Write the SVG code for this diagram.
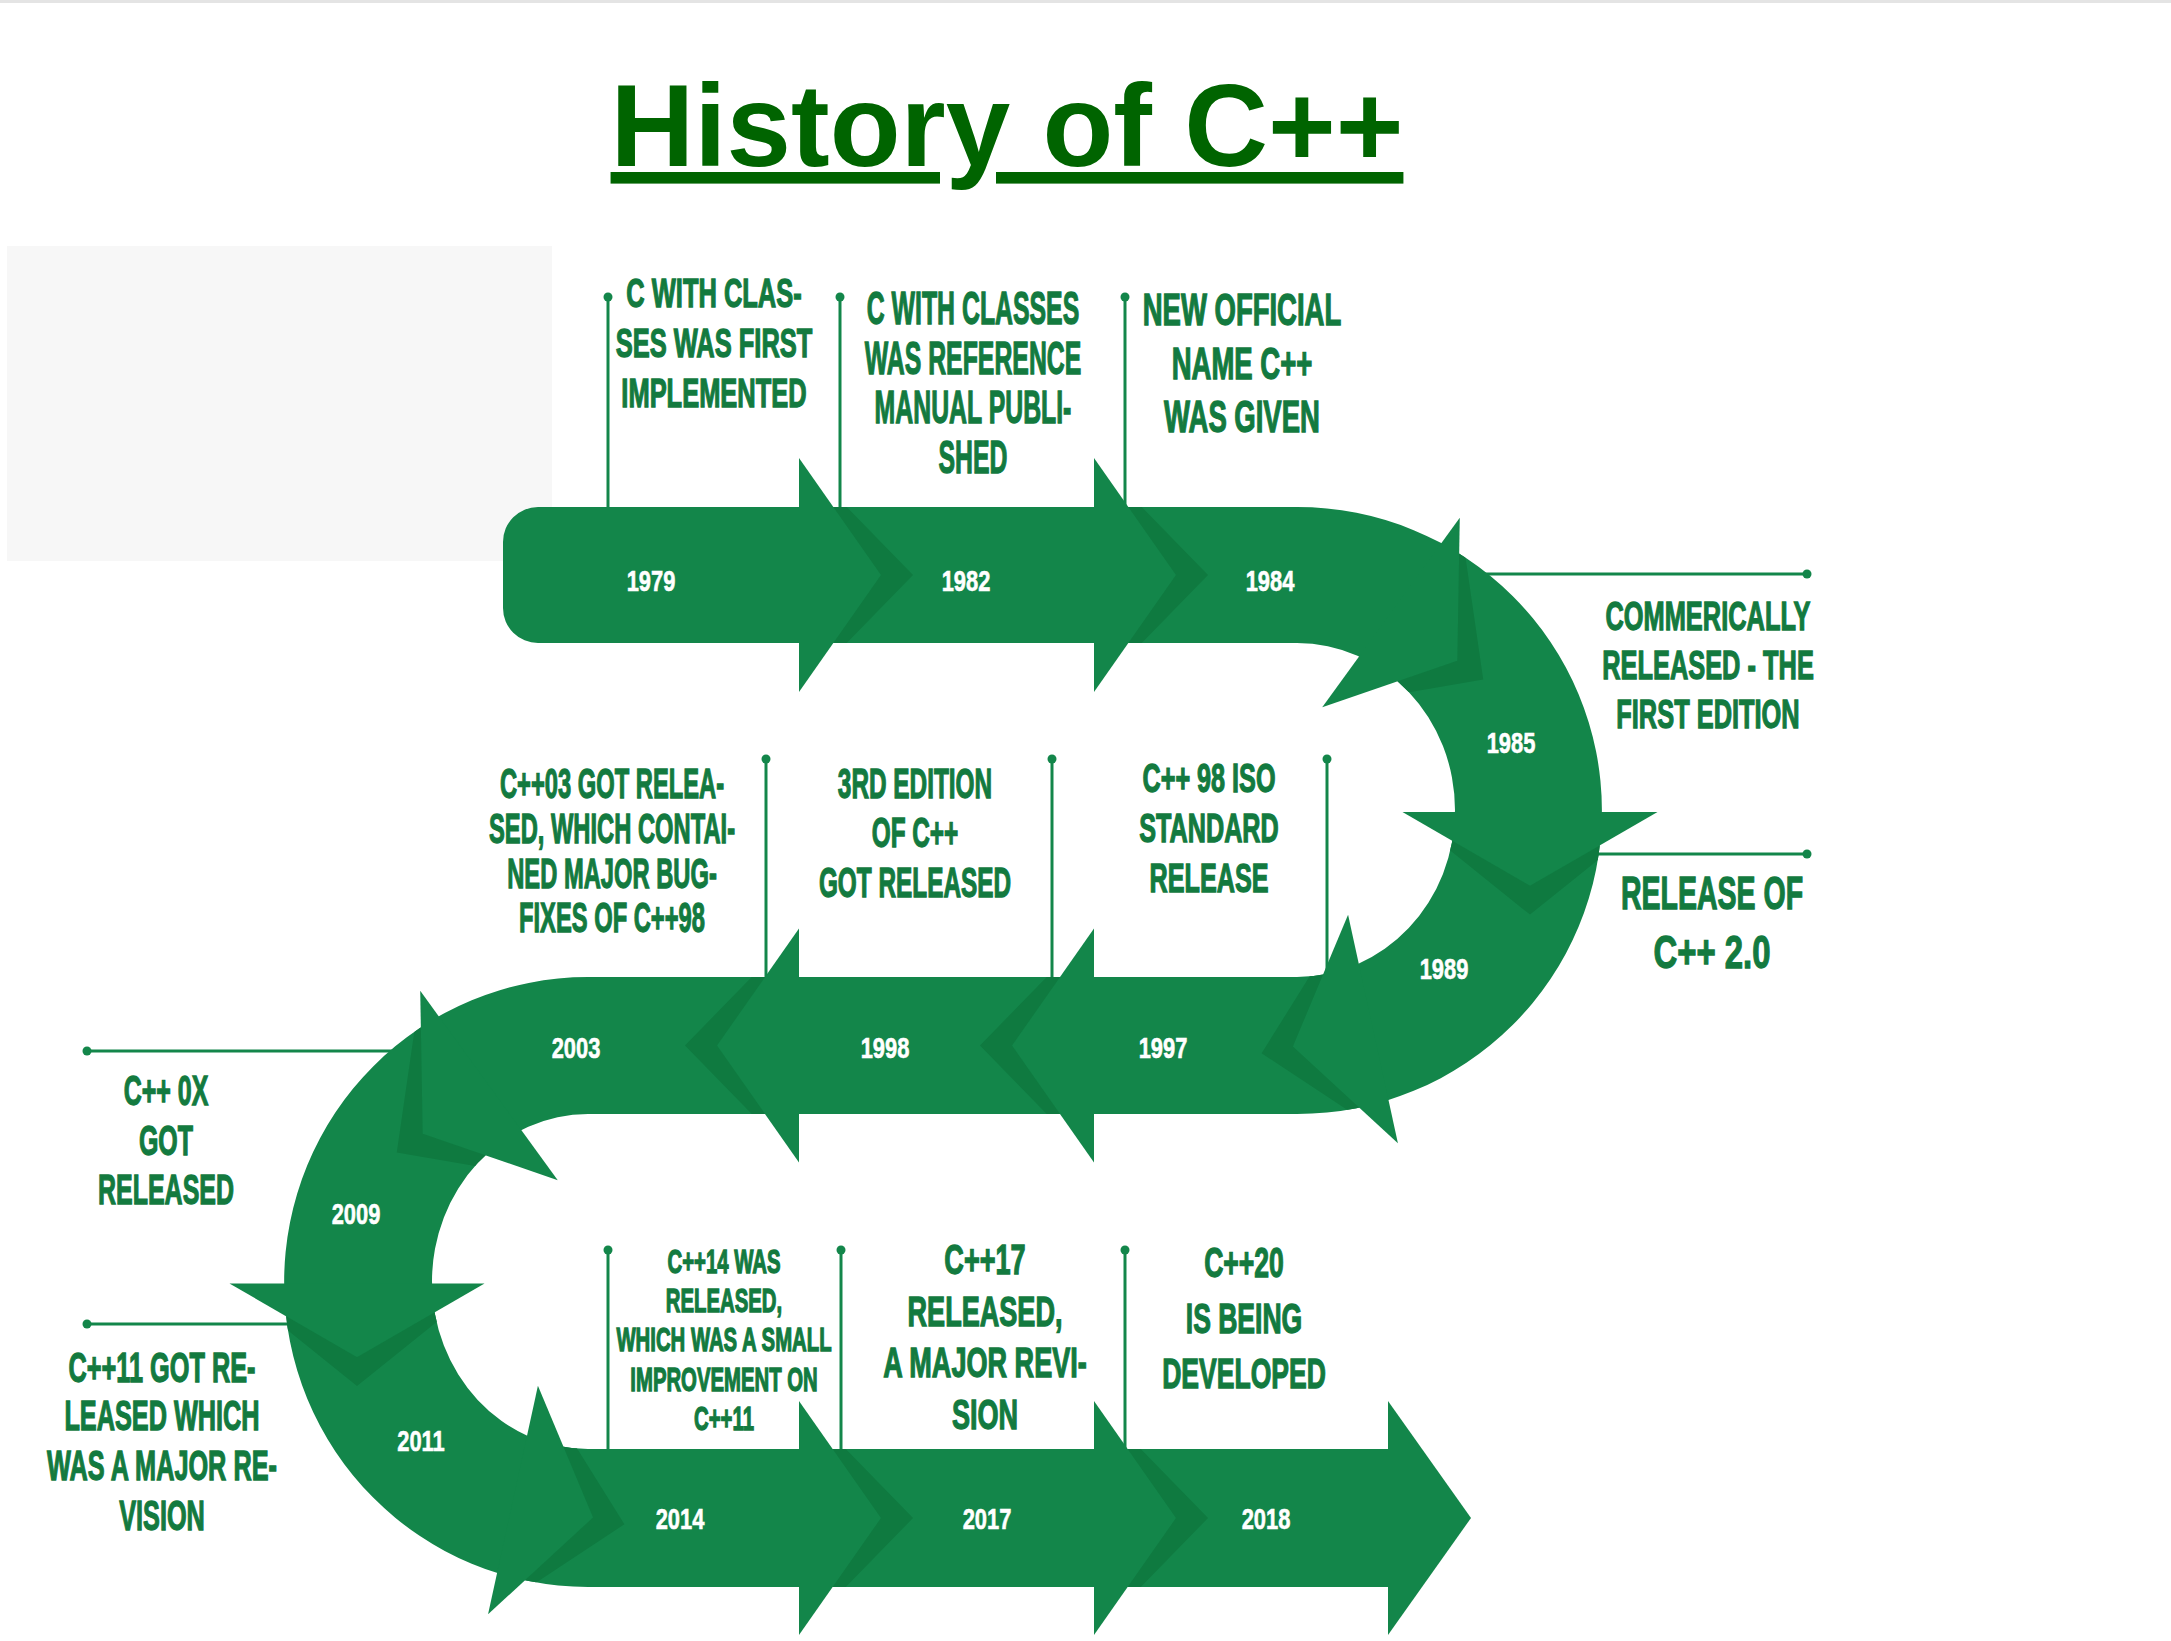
<svg xmlns="http://www.w3.org/2000/svg" xmlns:xlink="http://www.w3.org/1999/xlink" width="2171" height="1641" viewBox="0 0 2171 1641">
<style>
.rib{fill:#13864a}
.shd{fill:#0f7a40}
.yr{font-family:"Liberation Sans",Arial,sans-serif;font-weight:bold;font-size:30px;fill:#ffffff;stroke:#ffffff;stroke-width:0.6;text-anchor:middle}
.lbl{font-family:"Liberation Sans",Arial,sans-serif;font-weight:bold;fill:#137a3f;stroke:#137a3f;stroke-width:1.3;text-anchor:middle}
.title{font-family:"Liberation Sans",Arial,sans-serif;font-weight:bold;font-size:116px;fill:#006400;text-anchor:middle;text-decoration:underline}
.ln{stroke:#13864a;stroke-width:3;fill:none}
.dot{fill:#13864a}
</style>
<defs>
<path id="band" d="M 538 507 L 1297 507 A 305 303.5 0 0 1 1297 1114 L 588 1114 A 156 167.5 0 0 0 588 1449 L 1388 1449 L 1388 1587 L 588 1587 A 304 305 0 0 1 588 977 L 1297 977 A 158 167 0 0 0 1297 643 L 538 643 A 35 35 0 0 1 503 608 L 503 542 A 35 35 0 0 1 538 507 Z"/>
<clipPath id="bandClip"><use xlink:href="#band"/></clipPath>
<polygon id="head" points="0,-117 82,0 0,117"/>
<polygon id="shade" points="0,-117 114,0 0,117 82,0"/>
</defs>
<rect x="0" y="0" width="2171" height="1641" fill="#ffffff"/>
<rect x="0" y="0" width="2171" height="3" fill="#e4e4e4"/>
<rect x="7" y="246" width="545" height="315" fill="#f7f7f7"/>
<g id="title"><text class="title" x="1007" y="166">History of C++</text></g>

<g id="connectors">
<line class="ln" x1="608" y1="297" x2="608" y2="520"/><circle class="dot" cx="608" cy="297" r="4.5"/>
<line class="ln" x1="840" y1="297" x2="840" y2="520"/><circle class="dot" cx="840" cy="297" r="4.5"/>
<line class="ln" x1="1125" y1="297" x2="1125" y2="520"/><circle class="dot" cx="1125" cy="297" r="4.5"/>
<line class="ln" x1="1460" y1="574" x2="1807" y2="574"/><circle class="dot" cx="1807" cy="574" r="4.5"/>
<line class="ln" x1="1580" y1="854" x2="1807" y2="854"/><circle class="dot" cx="1807" cy="854" r="4.5"/>
<line class="ln" x1="766" y1="759" x2="766" y2="990"/><circle class="dot" cx="766" cy="759" r="4.5"/>
<line class="ln" x1="1052" y1="759" x2="1052" y2="990"/><circle class="dot" cx="1052" cy="759" r="4.5"/>
<line class="ln" x1="1327" y1="759" x2="1327" y2="990"/><circle class="dot" cx="1327" cy="759" r="4.5"/>
<line class="ln" x1="87" y1="1051" x2="420" y2="1051"/><circle class="dot" cx="87" cy="1051" r="4.5"/>
<line class="ln" x1="87" y1="1324" x2="310" y2="1324"/><circle class="dot" cx="87" cy="1324" r="4.5"/>
<line class="ln" x1="608" y1="1250" x2="608" y2="1460"/><circle class="dot" cx="608" cy="1250" r="4.5"/>
<line class="ln" x1="841" y1="1250" x2="841" y2="1460"/><circle class="dot" cx="841" cy="1250" r="4.5"/>
<line class="ln" x1="1125" y1="1250" x2="1125" y2="1460"/><circle class="dot" cx="1125" cy="1250" r="4.5"/>
</g>

<g id="ribbon">
<use xlink:href="#band" class="rib"/>
<g class="rib">
<use xlink:href="#head" transform="translate(799 575)"/>
<use xlink:href="#head" transform="translate(1094 575)"/>
<use xlink:href="#head" transform="translate(1391 612.5) rotate(36)"/>
<use xlink:href="#head" transform="translate(1530 812) rotate(90) scale(0.9 1.09)"/>
<use xlink:href="#head" transform="translate(1373 1029) rotate(167.7)"/>
<use xlink:href="#head" transform="translate(1094 1045.5) rotate(180)"/>
<use xlink:href="#head" transform="translate(799 1045.5) rotate(180)"/>
<use xlink:href="#head" transform="translate(489 1085.5) rotate(144)"/>
<use xlink:href="#head" transform="translate(357 1283.5) rotate(90) scale(0.9 1.09)"/>
<use xlink:href="#head" transform="translate(513 1500) rotate(12.3)"/>
<use xlink:href="#head" transform="translate(799 1518)"/>
<use xlink:href="#head" transform="translate(1094 1518)"/>
<polygon points="1388,1401 1471,1518 1388,1635"/>
</g>
<g class="shd" clip-path="url(#bandClip)">
<use xlink:href="#shade" transform="translate(799 575)"/>
<use xlink:href="#shade" transform="translate(1094 575)"/>
<use xlink:href="#shade" transform="translate(1391 612.5) rotate(36)"/>
<use xlink:href="#shade" transform="translate(1530 812) rotate(90) scale(0.9 1.09)"/>
<use xlink:href="#shade" transform="translate(1373 1029) rotate(167.7)"/>
<use xlink:href="#shade" transform="translate(1094 1045.5) rotate(180)"/>
<use xlink:href="#shade" transform="translate(799 1045.5) rotate(180)"/>
<use xlink:href="#shade" transform="translate(489 1085.5) rotate(144)"/>
<use xlink:href="#shade" transform="translate(357 1283.5) rotate(90) scale(0.9 1.09)"/>
<use xlink:href="#shade" transform="translate(513 1500) rotate(12.3)"/>
<use xlink:href="#shade" transform="translate(799 1518)"/>
<use xlink:href="#shade" transform="translate(1094 1518)"/>
</g>
</g>

<g id="e1979">
<text class="yr" transform="translate(651 0) scale(0.73 1)"><tspan x="0" y="591">1979</tspan></text>
<text class="lbl" font-size="40" transform="translate(714 0) scale(0.637 1)"><tspan x="0" y="307">C WITH CLAS-</tspan><tspan x="0" y="357">SES WAS FIRST</tspan><tspan x="0" y="407">IMPLEMENTED</tspan></text>
</g>
<g id="e1982">
<text class="yr" transform="translate(966 0) scale(0.73 1)"><tspan x="0" y="591">1982</tspan></text>
<text class="lbl" font-size="46" transform="translate(973 0) scale(0.54 1)"><tspan x="0" y="324">C WITH CLASSES</tspan><tspan x="0" y="374">WAS REFERENCE</tspan><tspan x="0" y="423">MANUAL PUBLI-</tspan><tspan x="0" y="473">SHED</tspan></text>
</g>
<g id="e1984">
<text class="yr" transform="translate(1270 0) scale(0.73 1)"><tspan x="0" y="591">1984</tspan></text>
<text class="lbl" font-size="44" transform="translate(1242 0) scale(0.625 1)"><tspan x="0" y="325">NEW OFFICIAL</tspan><tspan x="0" y="379">NAME C++</tspan><tspan x="0" y="432">WAS GIVEN</tspan></text>
</g>
<g id="e1985">
<text class="yr" transform="translate(1511 0) scale(0.73 1)"><tspan x="0" y="753">1985</tspan></text>
<text class="lbl" font-size="40" transform="translate(1708 0) scale(0.635 1)"><tspan x="0" y="630">COMMERICALLY</tspan><tspan x="0" y="679">RELEASED - THE</tspan><tspan x="0" y="728">FIRST EDITION</tspan></text>
</g>
<g id="e1989">
<text class="yr" transform="translate(1444 0) scale(0.73 1)"><tspan x="0" y="979">1989</tspan></text>
<text class="lbl" font-size="47" transform="translate(1712 0) scale(0.607 1)"><tspan x="0" y="909">RELEASE OF</tspan></text>
<text class="lbl" font-size="47" transform="translate(1712 0) scale(0.7 1)"><tspan x="0" y="968">C++ 2.0</tspan></text>
</g>
<g id="e1997">
<text class="yr" transform="translate(1163 0) scale(0.73 1)"><tspan x="0" y="1058">1997</tspan></text>
<text class="lbl" font-size="40" transform="translate(1209 0) scale(0.63 1)"><tspan x="0" y="792">C++ 98 ISO</tspan><tspan x="0" y="842">STANDARD</tspan><tspan x="0" y="892">RELEASE</tspan></text>
</g>
<g id="e1998">
<text class="yr" transform="translate(885 0) scale(0.73 1)"><tspan x="0" y="1058">1998</tspan></text>
<text class="lbl" font-size="42" transform="translate(915 0) scale(0.58 1)"><tspan x="0" y="798">3RD EDITION</tspan><tspan x="0" y="847">OF C++</tspan><tspan x="0" y="897">GOT RELEASED</tspan></text>
</g>
<g id="e2003">
<text class="yr" transform="translate(576 0) scale(0.73 1)"><tspan x="0" y="1058">2003</tspan></text>
<text class="lbl" font-size="42" transform="translate(612 0) scale(0.565 1)"><tspan x="0" y="798">C++03 GOT RELEA-</tspan><tspan x="0" y="843">SED, WHICH CONTAI-</tspan><tspan x="0" y="888">NED MAJOR BUG-</tspan><tspan x="0" y="932">FIXES OF C++98</tspan></text>
</g>
<g id="e2009">
<text class="yr" transform="translate(356 0) scale(0.73 1)"><tspan x="0" y="1224">2009</tspan></text>
<text class="lbl" font-size="42" transform="translate(166 0) scale(0.595 1)"><tspan x="0" y="1105">C++ 0X</tspan><tspan x="0" y="1155">GOT</tspan><tspan x="0" y="1204">RELEASED</tspan></text>
</g>
<g id="e2011">
<text class="yr" transform="translate(421 0) scale(0.73 1)"><tspan x="0" y="1451">2011</tspan></text>
<text class="lbl" font-size="42" transform="translate(162 0) scale(0.602 1)"><tspan x="0" y="1382">C++11 GOT RE-</tspan><tspan x="0" y="1430">LEASED WHICH</tspan><tspan x="0" y="1480">WAS A MAJOR RE-</tspan><tspan x="0" y="1530">VISION</tspan></text>
</g>
<g id="e2014">
<text class="yr" transform="translate(680 0) scale(0.73 1)"><tspan x="0" y="1529">2014</tspan></text>
<text class="lbl" font-size="33" transform="translate(724 0) scale(0.616 1)"><tspan x="0" y="1273">C++14 WAS</tspan><tspan x="0" y="1312">RELEASED,</tspan><tspan x="0" y="1351">WHICH WAS A SMALL</tspan><tspan x="0" y="1391">IMPROVEMENT ON</tspan><tspan x="0" y="1430">C++11</tspan></text>
</g>
<g id="e2017">
<text class="yr" transform="translate(987 0) scale(0.73 1)"><tspan x="0" y="1529">2017</tspan></text>
<text class="lbl" font-size="42" transform="translate(985 0) scale(0.645 1)"><tspan x="0" y="1274">C++17</tspan><tspan x="0" y="1326">RELEASED,</tspan><tspan x="0" y="1377">A MAJOR REVI-</tspan><tspan x="0" y="1429">SION</tspan></text>
</g>
<g id="e2018">
<text class="yr" transform="translate(1266 0) scale(0.73 1)"><tspan x="0" y="1529">2018</tspan></text>
<text class="lbl" font-size="42" transform="translate(1244 0) scale(0.632 1)"><tspan x="0" y="1277">C++20</tspan><tspan x="0" y="1333">IS BEING</tspan><tspan x="0" y="1388">DEVELOPED</tspan></text>
</g>
</svg>
